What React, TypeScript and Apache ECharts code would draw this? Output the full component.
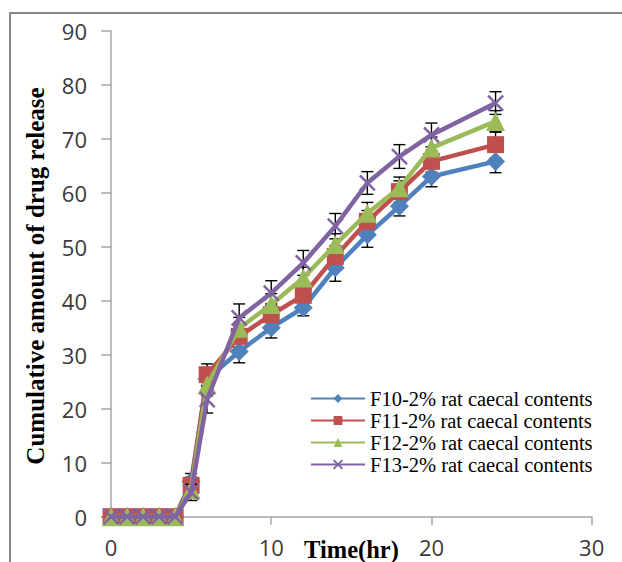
import React, { useEffect, useRef } from "react";
import * as echarts from "echarts";

const timeHr = [0, 1, 2, 3, 4, 5, 6, 8, 10, 12, 14, 16, 18, 20, 24];
const seriesNames = [
  "F10-2% rat caecal contents",
  "F11-2% rat caecal contents",
  "F12-2% rat caecal contents",
  "F13-2% rat caecal contents",
];
const f10 = [0, 0, 0, 0, 0, 6.5, 25.5, 30.6, 35.0, 38.7, 46.1, 52.2, 57.5, 63.0, 65.8];
const f11 = [0, 0, 0, 0, 0, 5.8, 26.3, 33.4, 37.4, 41.0, 48.2, 54.7, 60.2, 65.8, 68.9];
const f12 = [0, 0, 0, 0, 0, 5.0, 24.4, 34.9, 39.3, 44.2, 50.4, 56.2, 60.9, 68.3, 73.2];
const f13 = [0, 0, 0, 0, 0, 4.5, 21.7, 36.8, 41.4, 47.0, 53.8, 61.8, 66.7, 70.7, 76.6];
const f10Err = [0, 0, 0, 0, 0, 1.5, 1.5, 2.1, 1.9, 1.5, 2.5, 2.3, 1.8, 1.9, 2.1];
const f11Err = [0, 0, 0, 0, 0, 1.5, 2.0, 2.0, 2.0, 2.0, 2.0, 2.0, 2.0, 2.0, 2.5];
const f12Err = [0, 0, 0, 0, 0, 1.5, 2.0, 2.0, 2.0, 2.0, 2.0, 2.0, 2.0, 2.0, 2.0];
const f13Err = [0, 0, 0, 0, 0, 1.5, 2.5, 2.6, 2.3, 2.3, 2.35, 2.1, 2.2, 2.2, 2.1];
const yTicks = [0, 10, 20, 30, 40, 50, 60, 70, 80, 90];
const xTicks = [0, 10, 20, 30];

const colors = ["#4F81BD", "#C0504D", "#9BBB59", "#8064A2"];
const symbols = ["diamond", "rect", "triangle", "path://M0,0L10,10M10,0L0,10"];
const symbolSizes = [19, 17, 19, 15];
const values = [f10, f11, f12, f13];
const errors = [f10Err, f11Err, f12Err, f13Err];

export default function App() {
  const ref = useRef<HTMLDivElement>(null);
  useEffect(() => {
    if (!ref.current) return;
    const chart = echarts.init(ref.current, undefined, { renderer: "svg" });
    const lineSeries = values.map((vals, i) => ({
      name: seriesNames[i],
      type: "line",
      data: timeHr.map((t, j) => [t, vals[j]]),
      symbol: symbols[i],
      symbolSize: symbolSizes[i],
      showAllSymbol: true,
      color: colors[i],
      lineStyle: { color: colors[i], width: 4.5 },
      itemStyle:
        i === 3
          ? { color: colors[i], borderColor: colors[i], borderWidth: 2.5 }
          : { color: colors[i], borderWidth: 0 },
      z: 3 + i,
    }));
    const errSeries = values.map((vals, i) => ({
      type: "custom",
      silent: true,
      z: 2 + i,
      data: timeHr
        .map((t, j) => [t, vals[j] - errors[i][j], vals[j] + errors[i][j], errors[i][j]])
        .filter((d) => d[3] > 0),
      encode: { x: 0, y: [1, 2] },
      renderItem: (params: any, api: any) => {
        const x = api.value(0);
        const p1 = api.coord([x, api.value(1)]);
        const p2 = api.coord([x, api.value(2)]);
        const w = 6;
        const st = { stroke: "#000", lineWidth: 1.4 };
        return {
          type: "group",
          children: [
            { type: "line", shape: { x1: p1[0], y1: p1[1], x2: p2[0], y2: p2[1] }, style: st },
            { type: "line", shape: { x1: p1[0] - w, y1: p1[1], x2: p1[0] + w, y2: p1[1] }, style: st },
            { type: "line", shape: { x1: p2[0] - w, y1: p2[1], x2: p2[0] + w, y2: p2[1] }, style: st },
          ],
        };
      },
    }));
    const axisColor = "#A6A6A6";
    chart.setOption({
      animation: false,
      backgroundColor: "#fff",
      grid: {
        left: 111,
        top: 30.7,
        right: 30.3,
        bottom: 45.3,
        containLabel: false,
        outerBoundsMode: "none",
      },
      xAxis: {
        type: "value",
        min: xTicks[0],
        max: xTicks[xTicks.length - 1],
        interval: 10,
        splitLine: { show: false },
        axisLine: { lineStyle: { color: axisColor, width: 1.5 } },
        axisTick: { show: true, length: 8, lineStyle: { color: axisColor, width: 1.5 } },
        axisLabel: {
          margin: 19,
          color: "#3a3a3a",
          fontFamily: "Open Sans",
          fontSize: 22,
        },
      },
      yAxis: {
        type: "value",
        min: yTicks[0],
        max: yTicks[yTicks.length - 1],
        interval: 10,
        splitLine: { show: false },
        axisLine: { show: true, lineStyle: { color: axisColor, width: 1.5 } },
        axisTick: { show: true, length: 10, lineStyle: { color: axisColor, width: 1.5 } },
        axisLabel: {
          margin: 24,
          color: "#3a3a3a",
          fontFamily: "Open Sans",
          fontSize: 22,
        },
      },
      legend: {
        data: seriesNames,
        orient: "vertical",
        left: 310,
        top: 388,
        padding: 0,
        itemWidth: 54,
        itemHeight: 11,
        itemGap: 1,
        textStyle: {
          fontFamily: "Liberation Serif",
          fontSize: 20.5,
          lineHeight: 21,
          color: "#000",
        },
      },
      graphic: [
        {
          type: "rect",
          x: 10,
          y: 13,
          shape: { width: 700, height: 700 },
          style: { fill: "none", stroke: "#878787", lineWidth: 2 },
          silent: true,
          z: -1,
        },
        {
          type: "text",
          x: 35,
          y: 276,
          rotation: Math.PI / 2,
          style: {
            text: "Cumulative amount of drug release",
            fontFamily: "Liberation Serif",
            fontWeight: "bold",
            fontSize: 25,
            fill: "#000",
            textAlign: "center",
            textVerticalAlign: "middle",
          },
        },
        {
          type: "text",
          x: 351.5,
          y: 549,
          style: {
            text: "Time(hr)",
            fontFamily: "Liberation Serif",
            fontWeight: "bold",
            fontSize: 24.5,
            fill: "#000",
            textAlign: "center",
            textVerticalAlign: "middle",
          },
        },
      ],
      series: [...errSeries, ...lineSeries],
    });
    return () => chart.dispose();
  }, []);
  return (
    <div
      ref={ref}
      style={{ position: "absolute", left: 0, top: 0, width: 622, height: 562 }}
    />
  );
}
